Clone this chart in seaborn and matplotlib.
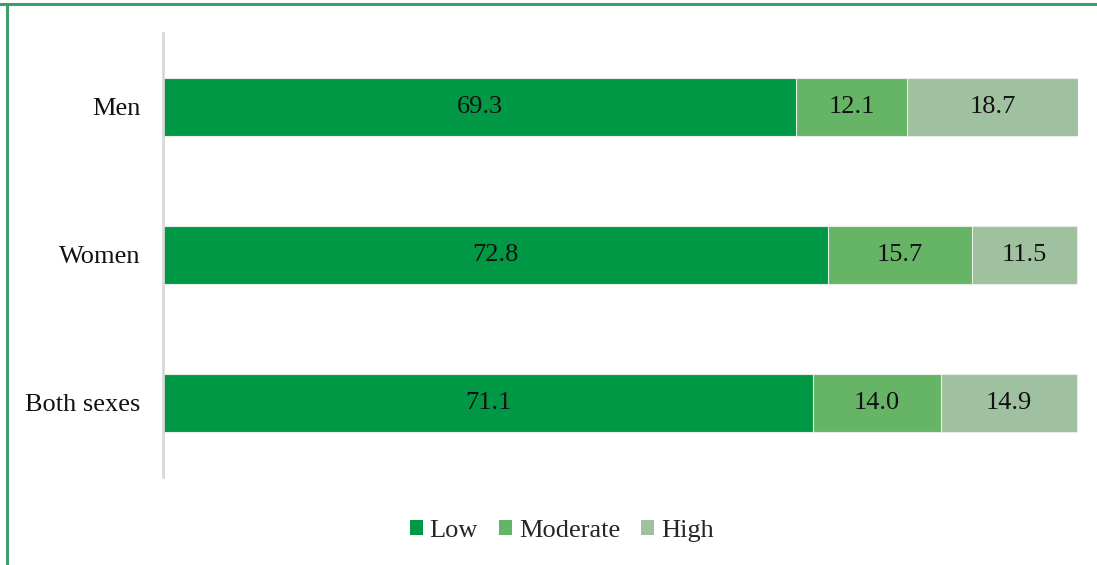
import pandas as pd
import matplotlib.pyplot as plt
import seaborn as sns
from matplotlib.patches import Patch
from matplotlib.lines import Line2D

# data (percent)
groups = ['Men', 'Women', 'Both sexes']
levels = ['Low', 'Moderate', 'High']
low = [69.3, 72.8, 71.1]
moderate = [12.1, 15.7, 14.0]
high = [18.7, 11.5, 14.9]
colors = ['#009845', '#66b466', '#a0c1a0']

df = pd.DataFrame({'group': groups, 'Low': low, 'Moderate': moderate, 'High': high})
df['cum_low'] = df['Low']
df['cum_mod'] = df['Low'] + df['Moderate']
df['cum_high'] = df['cum_mod'] + df['High']

sns.set_theme(style='white')
plt.rcParams['font.family'] = ['Liberation Serif', 'DejaVu Serif']

fig = plt.figure(figsize=(10.97, 5.65), dpi=100)
ax = fig.add_axes([0.1486, 0.1558, 0.8341, 0.7858])

# stacked bars: draw the cumulative totals from the back to the front
for col, c in zip(['cum_high', 'cum_mod', 'cum_low'], colors[::-1]):
    sns.barplot(data=df, x=col, y='group', orient='h', color=c, width=0.39,
                edgecolor='#e8efe8', linewidth=0.8, saturation=1, ax=ax)

# value labels in the middle of each segment
starts = [[0] * 3, df['cum_low'].tolist(), df['cum_mod'].tolist()]
for vals, st in zip([low, moderate, high], starts):
    for i, (v, s) in enumerate(zip(vals, st)):
        ax.text(s + v / 2, i, f'{v:.1f}', ha='center', va='center',
                fontsize=19, color='#111111')

ax.set_xlim(0, 100.1)
ax.set_ylim(2.5, -0.5)
ax.set_xlabel('')
ax.set_ylabel('')
ax.set_xticks([])
ax.tick_params(axis='y', length=0, labelsize=19, labelcolor='#111111', pad=16)
for side in ['top', 'right', 'bottom']:
    ax.spines[side].set_visible(False)
ax.spines['left'].set_color('#d9d9d9')
ax.spines['left'].set_linewidth(2)

handles = [Patch(facecolor=c, edgecolor='none', label=l) for c, l in zip(colors, levels)]
fig.legend(handles=handles, loc='center', bbox_to_anchor=(0.512, 0.061), ncol=3,
           frameon=False, fontsize=19, handlelength=0.5, handleheight=0.5,
           handletextpad=0.25, columnspacing=0.8)

# green frame (top and left edges visible)
fig.add_artist(Line2D([0, 1], [1 - 3.5 / 565] * 2, transform=fig.transFigure,
                      color='#3d9e6a', linewidth=2.2))
fig.add_artist(Line2D([6.5 / 1097] * 2, [0, 1 - 3.5 / 565], transform=fig.transFigure,
                      color='#3d9e6a', linewidth=2.2))

fig.savefig('out.png', dpi=100)
